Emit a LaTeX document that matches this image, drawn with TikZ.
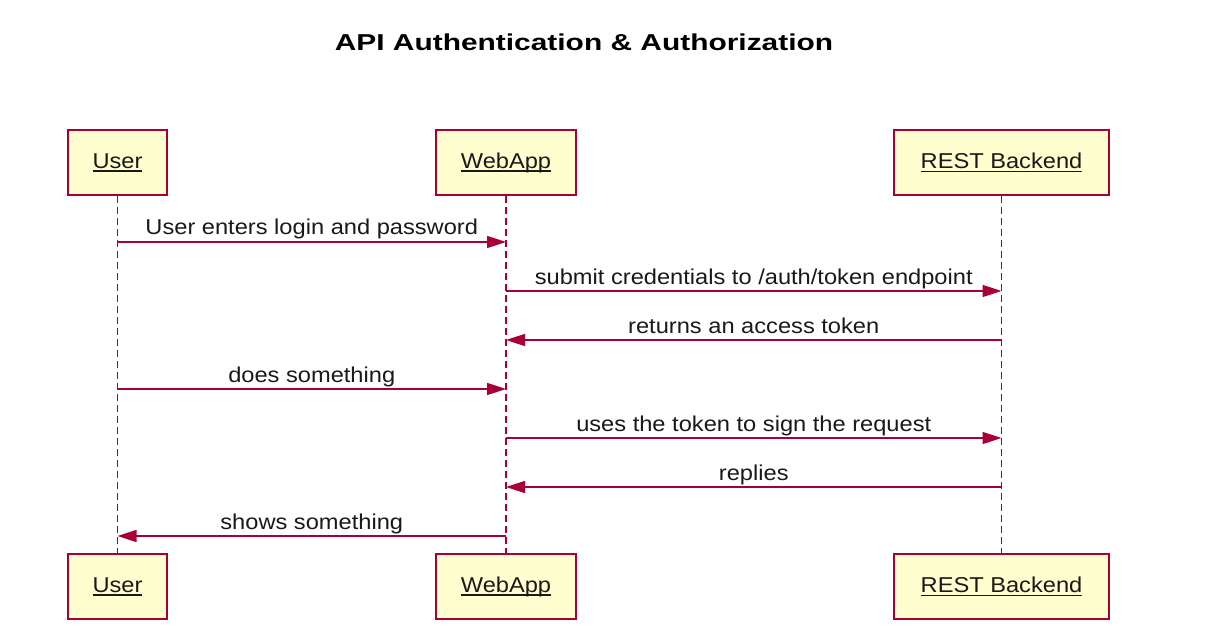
\documentclass[tikz,border=0pt]{standalone}
\usepackage{fontspec}
\setmainfont{Liberation Sans}[FakeStretch=1.1]
\newfontfamily\titlefont{Liberation Sans}[FakeStretch=1.3]
\usepackage{tikz}
\usetikzlibrary{arrows.meta, positioning, calc}
\definecolor{umlred}{HTML}{A80036}
\definecolor{umlfill}{HTML}{FEFECE}
\newcommand{\actorname}[1]{\setbox0\hbox{#1}\rlap{\rule[-3.5pt]{\wd0}{1.5pt}}#1}
\tikzset{
    actor/.style={draw=umlred, fill=umlfill, line width=1.8pt, minimum height=65pt,
        inner sep=0pt, font=\fontsize{21.5}{25}\selectfont, text=black!90},
    lifeline/.style={draw=umlred, line width=1.6pt, dash pattern=on 7pt off 4pt},
    msg/.style={draw=umlred, line width=1.6pt, -{Triangle[length=19pt, width=12pt]}},
    msglabel/.style={font=\fontsize{21.5}{25}\selectfont, anchor=base, yshift=7pt,
        inner sep=0pt, text=black!90}
}

\begin{document}
\begin{tikzpicture}[x=1pt, y=-1pt]
    \useasboundingbox (0,0) rectangle (1206,628);
    \node[font=\titlefont\bfseries\fontsize{23}{27}\selectfont, anchor=base] (title) at (584,51) {API Authentication \& Authorization};
    % participants
    \node[actor, minimum width=99pt] (userT) at (117.5,162.5) {\actorname{User}};
    \node[actor, minimum width=140pt] (webT) at (506,162.5) {\actorname{WebApp}};
    \node[actor, minimum width=215pt] (restT) at (1001.5,162.5) {\actorname{REST Backend}};
    \node[actor, minimum width=99pt] (userB) at (117.5,586.5) {\actorname{User}};
    \node[actor, minimum width=140pt] (webB) at (506,586.5) {\actorname{WebApp}};
    \node[actor, minimum width=215pt] (restB) at (1001.5,586.5) {\actorname{REST Backend}};
    \draw[lifeline] (userT) -- (userB);
    \draw[lifeline] (webT) -- (webB);
    \draw[lifeline] (restT) -- (restB);
    % messages
    \foreach \y [count=\i] in {242,291,340,389,438,487,536}
        \coordinate (m\i) at (0,\y);
    \draw[msg] (userT |- m1) -- node[msglabel]{User enters login and password} (webT |- m1);
    \draw[msg] (webT |- m2) -- node[msglabel]{submit credentials to /auth/token endpoint} (restT |- m2);
    \draw[msg] (restT |- m3) -- node[msglabel]{returns an access token} (webT |- m3);
    \draw[msg] (userT |- m4) -- node[msglabel]{does something} (webT |- m4);
    \draw[msg] (webT |- m5) -- node[msglabel]{uses the token to sign the request} (restT |- m5);
    \draw[msg] (restT |- m6) -- node[msglabel]{replies} (webT |- m6);
    \draw[msg] (webT |- m7) -- node[msglabel]{shows something} (userT |- m7);
\end{tikzpicture}
\end{document}
